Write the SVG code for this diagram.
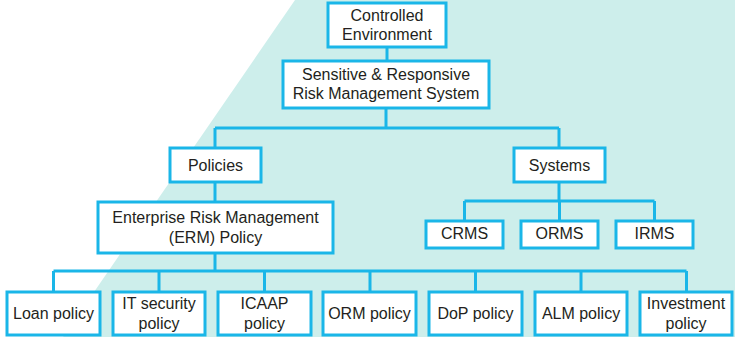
<svg xmlns="http://www.w3.org/2000/svg" width="735" height="337" viewBox="0 0 735 337">
<style>
.box{fill:#ffffff;stroke:#1ab6e8;stroke-width:3}
.ln{fill:none;stroke:#1ab6e8;stroke-width:3}
text{font-family:"Liberation Sans",Arial,sans-serif;font-size:16px;fill:#231f20;text-anchor:middle}
</style>
<rect width="735" height="337" fill="#ffffff"/>
<polygon points="295,0 735,0 735,337 63,337" fill="#cdeeeb"/>
<g id="connectors">
<path class="ln" d="M387,47V61"/>
<path class="ln" d="M386,108V128M215,128H559M215,128V148M559,128V148"/>
<path class="ln" d="M215,182V202"/>
<path class="ln" d="M559,182V201M464.5,201H654.5M464.5,201V221M559.5,201V221M654.5,201V221"/>
<path class="ln" d="M215,253V271M53.5,271H686.5M53.5,271V292M159,271V292M264.5,271V292M370,271V292M475.5,271V292M581,271V292M686.5,271V292"/>
</g>
<g id="controlled-environment"><rect class="box" x="328" y="3" width="118" height="44"/><text x="387" y="20.5">Controlled</text><text x="387" y="40">Environment</text></g>
<g id="srrms"><rect class="box" x="283" y="61" width="206" height="47"/><text x="386" y="79.5">Sensitive &amp; Responsive</text><text x="386" y="99">Risk Management System</text></g>
<g id="policies"><rect class="box" x="170" y="148" width="91" height="34"/><text x="215.5" y="170.5">Policies</text></g>
<g id="systems"><rect class="box" x="514" y="148" width="91" height="34"/><text x="559.5" y="170.5">Systems</text></g>
<g id="erm"><rect class="box" x="98" y="202" width="235" height="51"/><text x="215.5" y="222.5">Enterprise Risk Management</text><text x="215.5" y="242.5">(ERM) Policy</text></g>
<g id="crms"><rect class="box" x="426" y="221" width="77" height="27"/><text x="464.5" y="239">CRMS</text></g>
<g id="orms"><rect class="box" x="521" y="221" width="77" height="27"/><text x="559.5" y="239">ORMS</text></g>
<g id="irms"><rect class="box" x="616" y="221" width="77" height="27"/><text x="654.5" y="239">IRMS</text></g>
<g id="loan"><rect class="box" x="7" y="292" width="93" height="43"/><text x="53.5" y="318.5">Loan policy</text></g>
<g id="it-security"><rect class="box" x="113" y="292" width="92" height="43"/><text x="159" y="308.5">IT security</text><text x="159" y="328.5">policy</text></g>
<g id="icaap"><rect class="box" x="218" y="292" width="93" height="43"/><text x="264.5" y="308.5">ICAAP</text><text x="264.5" y="328.5">policy</text></g>
<g id="orm"><rect class="box" x="323" y="292" width="93" height="43"/><text x="369.5" y="318.5">ORM policy</text></g>
<g id="dop"><rect class="box" x="429" y="292" width="93" height="43"/><text x="475.5" y="318.5">DoP policy</text></g>
<g id="alm"><rect class="box" x="535" y="292" width="92" height="43"/><text x="581" y="318.5">ALM policy</text></g>
<g id="investment"><rect class="box" x="640" y="292" width="92" height="43"/><text x="686" y="308.5">Investment</text><text x="686" y="328.5">policy</text></g>
</svg>
